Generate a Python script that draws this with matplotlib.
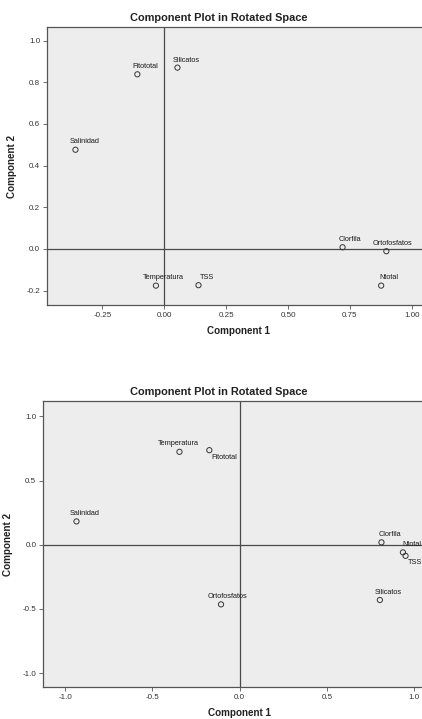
import matplotlib
matplotlib.use("Agg")
from matplotlib import pyplot as plt

# ---- data ----
# top panel
vars_top = ["Fitototal", "Silicatos", "Salinidad", "Temperatura", "TSS",
            "Clorfila", "Ortofosfatos", "Ntotal"]
comp1_top = [-0.109, 0.053, -0.359, -0.034, 0.138, 0.720, 0.897, 0.876]
comp2_top = [0.838, 0.870, 0.476, -0.176, -0.174, 0.008, -0.011, -0.176]
xticks_top = [-0.25, 0.00, 0.25, 0.50, 0.75, 1.00]
yticks_top = [-0.2, 0.0, 0.2, 0.4, 0.6, 0.8, 1.0]

# bottom panel
vars_bot = ["Temperatura", "Fitototal", "Salinidad", "Clorfila", "Ntotal",
            "TSS", "Silicatos", "Ortofosfatos"]
comp1_bot = [-0.345, -0.174, -0.935, 0.812, 0.935, 0.950, 0.803, -0.107]
comp2_bot = [0.724, 0.737, 0.182, 0.019, -0.059, -0.086, -0.430, -0.464]
xticks_bot = [-1.0, -0.5, 0.0, 0.5, 1.0]
yticks_bot = [-1.0, -0.5, 0.0, 0.5, 1.0]

# label offsets in pixels (left edge of text, vertical centre)
offs_top = [(-5, 8), (-5, 7.5), (-6, 8), (-12.7, 8), (1, 8),
            (-3.7, 8), (-13.3, 7.6), (-1.3, 8)]
offs_bot = [(-22, 8), (2, -7.7), (-6.3, 8), (-3.3, 7.6), (-0.7, 8.3),
            (2.3, -7), (-5.3, 7.7), (-13.7, 8.3)]

plt.rcParams["font.family"] = ["Liberation Sans", "DejaVu Sans"]

W, H = 422, 719
fig = plt.figure(figsize=(W / 100, H / 100), dpi=100)
fig.patch.set_facecolor("white")

BG = "#ededed"
FRAME = "#555555"
REF = "#4a4a4a"


def component_panel(rect, xs, ys, names, offs, xlim, ylim, xticks, yticks,
                    xfmt, title_x, xlab, ylab_x):
    ax = fig.add_axes(rect)
    ax.set_facecolor(BG)
    ax.set_xlim(*xlim)
    ax.set_ylim(*ylim)
    ax.axvline(0, color=REF, lw=0.9, zorder=1)
    ax.axhline(0, color=REF, lw=0.9, zorder=1)
    ax.scatter(xs, ys, s=14, facecolors="none", edgecolors="#333333",
               linewidths=0.7, zorder=3)
    for x, y, name, (dx, dy) in zip(xs, ys, names, offs):
        ax.annotate(name, (x, y), xytext=(dx, dy), textcoords="offset pixels",
                    ha="left", va="center", fontsize=5.3, color="#1a1a1a",
                    annotation_clip=False)
    ax.set_xticks(xticks)
    ax.set_xticklabels([xfmt.format(t) for t in xticks])
    ax.set_yticks(yticks)
    ax.set_yticklabels(["{:.1f}".format(t) for t in yticks])
    ax.tick_params(direction="out", length=3, width=0.6, colors="#555555",
                   labelcolor="#333333", labelsize=5.8, pad=2)
    for side in ["left", "bottom", "top"]:
        ax.spines[side].set_color(FRAME)
        ax.spines[side].set_linewidth(0.9)
    ax.spines["right"].set_visible(False)
    ax.set_title("Component Plot in Rotated Space", fontsize=7.9,
                 fontweight="bold", x=title_x, pad=4, color="#222222")
    ax.set_xlabel("Component 1", fontsize=7.1, fontweight="bold", color="#222222")
    ax.set_ylabel("Component 2", fontsize=7.1, fontweight="bold", color="#222222")
    ax.xaxis.set_label_coords(*xlab)
    ax.yaxis.set_label_coords(ylab_x, 0.5)
    return ax


# top panel: axes from x=47..422 px, y=27..305 px
component_panel([47 / W, 1 - 305 / H, 376 / W, 278 / H],
                comp1_top, comp2_top, vars_top, offs_top,
                (-0.474, 1.045), (-0.269, 1.065), xticks_top, yticks_top,
                "{:.2f}", 0.457, (0.509, -0.0755), -0.081)

# bottom panel: axes from x=43..422 px, y=401..687 px
component_panel([43.3 / W, 1 - 687.3 / H, 379.7 / W, 286.3 / H],
                comp1_bot, comp2_bot, vars_bot, offs_bot,
                (-1.125, 1.05), (-1.11, 1.12), xticks_bot, yticks_bot,
                "{:.1f}", 0.461, (0.517, -0.071), -0.08)

fig.savefig("out.png", dpi=100, facecolor="white")
